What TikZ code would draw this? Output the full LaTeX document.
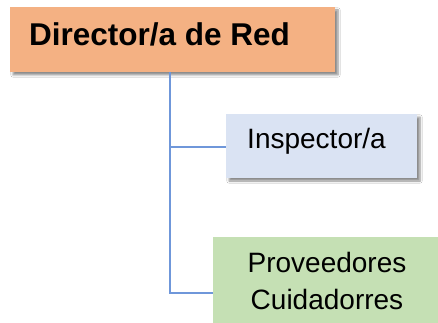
\documentclass[tikz,border=0pt]{standalone}
\usepackage{fontspec}
\setmainfont{Liberation Sans}
\usetikzlibrary{shadows,shadows.blur}
\definecolor{orangebox}{HTML}{F4B183}
\definecolor{bluebox}{HTML}{DAE3F3}
\definecolor{greenbox}{HTML}{C5E0B4}
\definecolor{linkblue}{HTML}{6F97DA}
\tikzset{
  boxshadow/.style={blur shadow={shadow xshift=3pt, shadow yshift=-3pt, shadow blur steps=6, shadow blur extra rounding=0pt, shadow opacity=45}},
  link/.style={draw=linkblue, line width=1.3pt},
  label/.style={inner sep=0pt, font=\fontsize{28}{37}\selectfont, align=center}
}
\begin{document}
\begin{tikzpicture}[x=1pt,y=-1pt]
\useasboundingbox (0,0) rectangle (438,323);
\clip (0,0) rectangle (438,323);
\fill[white] (0,0) rectangle (438,323);
% connectors
\coordinate (top) at (170,72);
\coordinate (corner) at (170,293);
\coordinate (mid) at (170,147);
\node[boxshadow, fill=orangebox, minimum width=325pt, minimum height=65pt, inner sep=0pt] (dir) at (172.5,39.5) {};
\node[label, anchor=west, font=\bfseries\fontsize{31.5}{36}\selectfont] (dirtext) at (29,34.5) {Director/a de Red};
\node[boxshadow, fill=bluebox, minimum width=191pt, minimum height=64pt, inner sep=0pt] (insp) at (321.5,146) {};
\node[label] (insptext) at (316.5,141) {Inspector/a};
\node[fill=greenbox, minimum width=230pt, minimum height=90pt, inner sep=0pt, anchor=north west] (prov) at (213,237) {};
\node[label] (provtext) at (327,281) {Proveedores\\Cuidadorres};
\draw[link] (dir.south -| top) -- (corner) -- (prov.west |- corner);
\draw[link] (mid) -- (insp.west |- mid);
\end{tikzpicture}
\end{document}
